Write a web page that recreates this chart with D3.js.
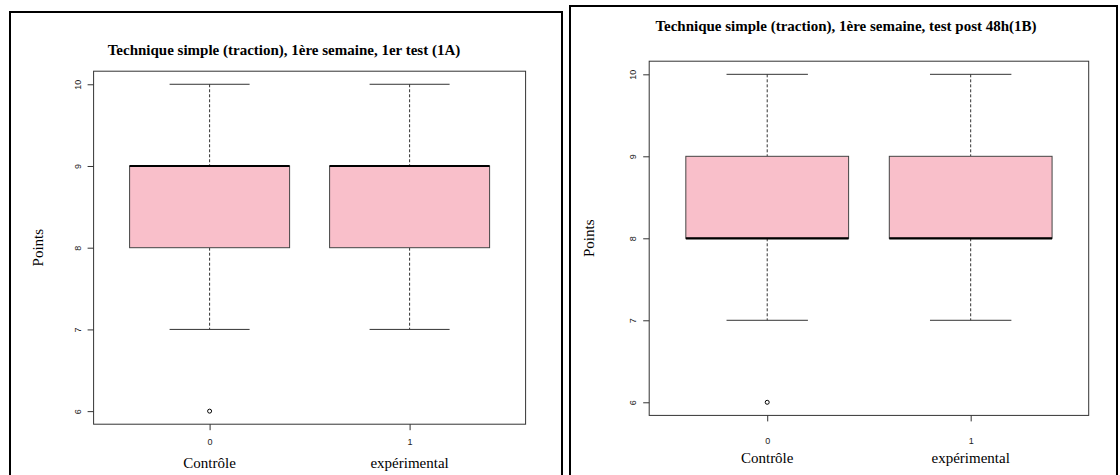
<!DOCTYPE html>
<html>
<head>
<meta charset="utf-8">
<script src="https://cdn.jsdelivr.net/npm/d3@7"></script>
<style>
  body { margin: 0; background: #fff; }
  svg { display: block; }
</style>
</head>
<body>
<div id="chart"></div>
<script>
"use strict";

// chart values
var titles = ["Technique simple (traction), 1ère semaine, 1er test (1A)",
              "Technique simple (traction), 1ère semaine, test post 48h(1B)"];
var categories = ["0", "1"];
var categoryNames = ["Contrôle", "expérimental"];
var yTicks = [6, 7, 8, 9, 10];

// box statistics, panel 1A
var lowA = [7, 7], q1A = [8, 8], medA = [9, 9], q3A = [9, 9], highA = [10, 10];
var outA = [[6], []];
// box statistics, panel 1B
var lowB = [7, 7], q1B = [8, 8], medB = [8, 8], q3B = [9, 9], highB = [10, 10];
var outB = [[6], []];

var svg = d3.select("#chart").append("svg")
        .attr("width", 1120)
        .attr("height", 475);

var serif = "'Liberation Serif', 'Times New Roman', 'DejaVu Serif', serif";
var sans = "'Liberation Sans', Arial, sans-serif";

//layout of each panel (pixels)
var panels = [
    {frame: [10, 12, 552, 480], plot: [93.6, 71.2, 525.6, 424.2], titleX: 284, titleY: 50,
     tickY: 18, nameY: 39, yLabX: 38, title: titles[0],
     low: lowA, q1: q1A, med: medA, q3: q3A, high: highA, out: outA},
    {frame: [570, 6, 547, 480], plot: [649.2, 61.2, 1088.7, 415.4], titleX: 846, titleY: 26,
     tickY: 26, nameY: 43, yLabX: 589, title: titles[1],
     low: lowB, q1: q1B, med: medB, q3: q3B, high: highB, out: outB}
];

panels.forEach(function (p) {
    var g = svg.append("g");
    var left = p.plot[0], top = p.plot[1], right = p.plot[2], bottom = p.plot[3];

    // R style limits : 4% extension
    var x = d3.scaleLinear().domain([0.42, 2.58]).range([left, right]);
    var y = d3.scaleLinear().domain([5.84, 10.16]).range([bottom, top]);

    //outer frame
    g.append("rect")
            .attr("x", p.frame[0]).attr("y", p.frame[1])
            .attr("width", p.frame[2]).attr("height", p.frame[3])
            .attr("fill", "none").attr("stroke", "#000").attr("stroke-width", 2);

    //title
    g.append("text")
            .attr("x", p.titleX).attr("y", p.titleY)
            .attr("text-anchor", "middle")
            .attr("dominant-baseline", "central")
            .style("font-family", serif)
            .style("font-weight", "bold")
            .style("font-size", "15px")
            .text(p.title);

    var idx = categories.map(function (d, i) { return i + 1; });

    //whiskers (dashed)
    idx.forEach(function (k, i) {
        g.append("line")
                .attr("x1", x(k)).attr("x2", x(k))
                .attr("y1", y(p.high[i])).attr("y2", y(p.q3[i]))
                .attr("stroke", "#333").attr("stroke-dasharray", "3,2");
        g.append("line")
                .attr("x1", x(k)).attr("x2", x(k))
                .attr("y1", y(p.q1[i])).attr("y2", y(p.low[i]))
                .attr("stroke", "#333").attr("stroke-dasharray", "3,2");
        //staples
        [p.high[i], p.low[i]].forEach(function (v) {
            g.append("line")
                    .attr("x1", x(k - 0.2)).attr("x2", x(k + 0.2))
                    .attr("y1", y(v)).attr("y2", y(v))
                    .attr("stroke", "#333");
        });
    });

    //boxes
    g.selectAll("rect.box")
            .data(idx)
            .enter()
            .append("rect")
            .attr("class", "box")
            .attr("x", function (k) { return x(k - 0.4); })
            .attr("width", function (k) { return x(k + 0.4) - x(k - 0.4); })
            .attr("y", function (k, i) { return y(p.q3[i]); })
            .attr("height", function (k, i) { return y(p.q1[i]) - y(p.q3[i]); })
            .attr("fill", "#f9bfca")
            .attr("stroke", "#444");

    //medians
    g.selectAll("line.median")
            .data(idx)
            .enter()
            .append("line")
            .attr("class", "median")
            .attr("x1", function (k) { return x(k - 0.4); })
            .attr("x2", function (k) { return x(k + 0.4); })
            .attr("y1", function (k, i) { return y(p.med[i]); })
            .attr("y2", function (k, i) { return y(p.med[i]); })
            .attr("stroke", "#000").attr("stroke-width", 2.2);

    //outliers
    idx.forEach(function (k, i) {
        p.out[i].forEach(function (v) {
            g.append("circle")
                    .attr("cx", x(k)).attr("cy", y(v)).attr("r", 2)
                    .attr("fill", "none").attr("stroke", "#000");
        });
    });

    //plot frame
    g.append("rect")
            .attr("x", left).attr("y", top)
            .attr("width", right - left).attr("height", bottom - top)
            .attr("fill", "none").attr("stroke", "#333");

    //y axis
    var yAxis = g.append("g")
            .attr("transform", "translate(" + left + ",0)")
            .call(d3.axisLeft(y).tickValues(yTicks).tickSize(6).tickSizeOuter(0)
                    .tickFormat(d3.format("d")));
    yAxis.select(".domain").remove();
    yAxis.selectAll(".tick line").attr("stroke", "#333");
    yAxis.selectAll(".tick text")
            .attr("x", 0).attr("dy", 0)
            .attr("transform", "translate(-16,0) rotate(-90)")
            .attr("text-anchor", "middle")
            .attr("dominant-baseline", "central")
            .style("font-family", sans)
            .style("font-size", "9px")
            .attr("fill", "#222");

    //x axis
    var xAxis = g.append("g")
            .attr("transform", "translate(0," + bottom + ")")
            .call(d3.axisBottom(x).tickValues(idx).tickSize(6).tickSizeOuter(0)
                    .tickFormat(function (k) { return categories[k - 1]; }));
    xAxis.select(".domain").remove();
    xAxis.selectAll(".tick line").attr("stroke", "#333");
    xAxis.selectAll(".tick text")
            .attr("y", p.tickY).attr("dy", 0)
            .attr("dominant-baseline", "central")
            .style("font-family", sans)
            .style("font-size", "9px")
            .attr("fill", "#222");

    //group names under each box
    g.selectAll("text.name")
            .data(idx)
            .enter()
            .append("text")
            .attr("class", "name")
            .attr("x", function (k) { return x(k); })
            .attr("y", bottom + p.nameY)
            .attr("text-anchor", "middle")
            .attr("dominant-baseline", "central")
            .style("font-family", serif)
            .style("font-size", "15px")
            .text(function (k) { return categoryNames[k - 1]; });

    //y title
    g.append("text")
            .attr("transform", "translate(" + p.yLabX + "," + (top + bottom) / 2 + ") rotate(-90)")
            .attr("text-anchor", "middle")
            .attr("dominant-baseline", "central")
            .style("font-family", serif)
            .style("font-size", "15px")
            .text("Points");
});
</script>
</body>
</html>
